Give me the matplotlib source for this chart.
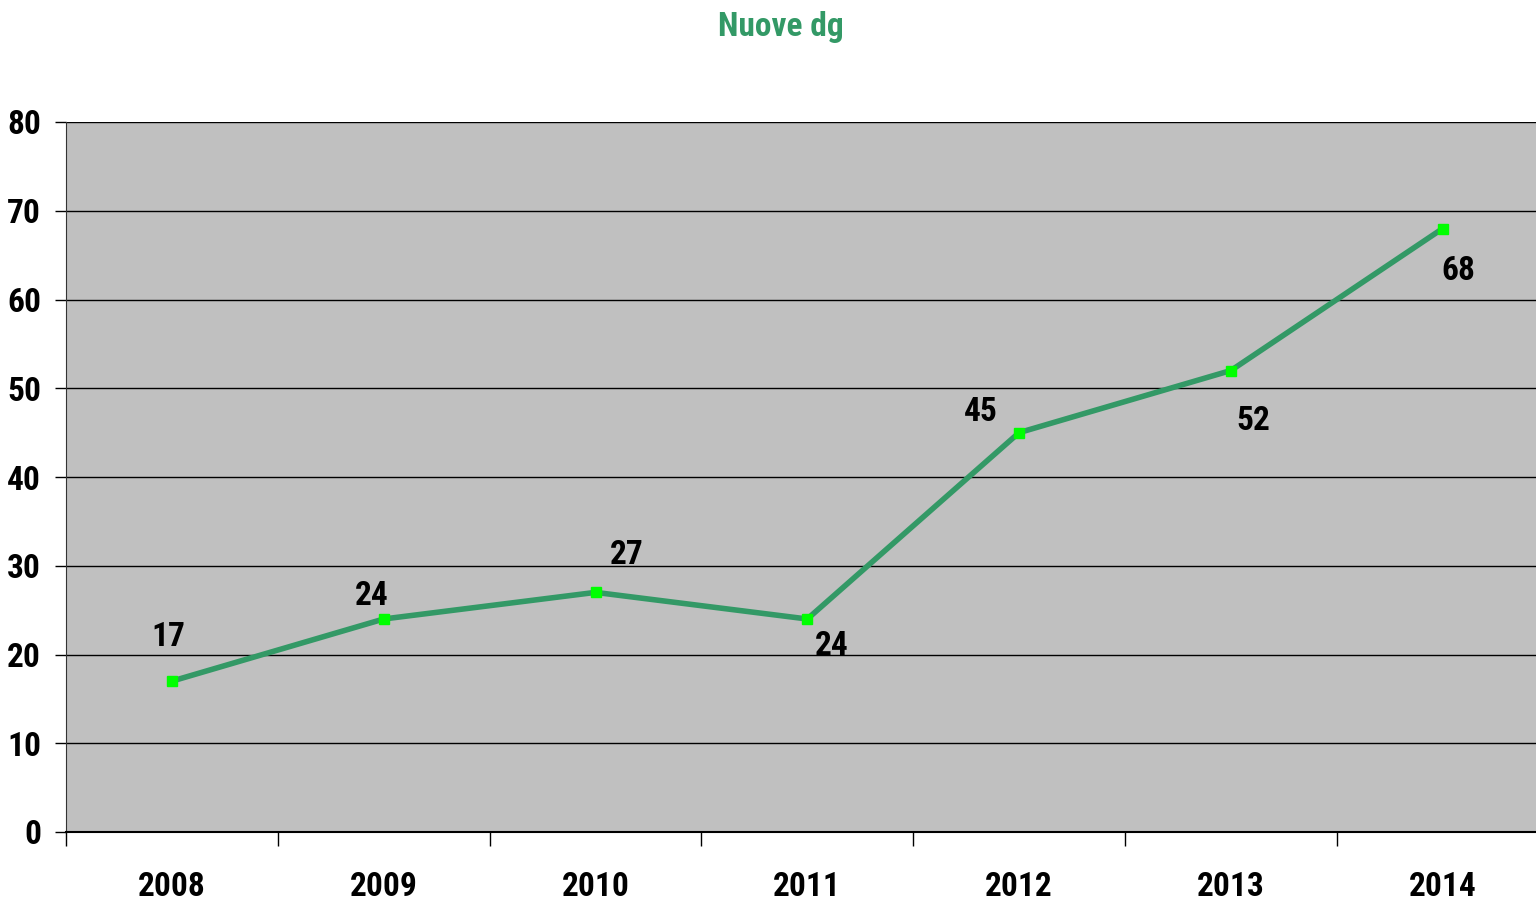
import matplotlib
matplotlib.use("Agg")
import matplotlib.pyplot as plt
from matplotlib.ticker import FixedLocator
import matplotlib.font_manager as fm

years = ["2008", "2009", "2010", "2011", "2012", "2013", "2014"]
values = [17, 24, 27, 24, 45, 52, 68]
label_offsets = [(-4, 44), (-12, 23), (31, 37), (24, -27), (-38, 21), (22, -51), (16, -43)]
title = "Nuove dg"

names = {f.name for f in fm.fontManager.ttflist}
fam = [n for n in ["Liberation Sans Narrow", "Roboto Condensed", "Liberation Sans", "DejaVu Sans"] if n in names]
plt.rcParams['font.family'] = fam
plt.rcParams['font.weight'] = 'bold'

FS = 24
W, H = 1536, 902
fig = plt.figure(figsize=(W/100, H/100), dpi=100)
ax = fig.add_axes([66/W, (H-832)/H, (W-66)/W, (832-122)/H])
ax.set_facecolor("#C0C0C0")

x = list(range(len(years)))
ax.plot(x, values, color="#339966", lw=4, marker="s", markersize=7,
        markerfacecolor="#00FF00", markeredgecolor="#00FF00", zorder=3, clip_on=False)

for xi, v, (dx, dy) in zip(x, values, label_offsets):
    ax.annotate(str(v), (xi, v), xytext=(dx, dy), textcoords="offset pixels",
                ha="center", va="center", fontsize=FS, fontweight="bold", color="black")

ax.set_xlim(-0.5, -0.5 + 1470/211.8)
ax.set_ylim(0, 80)
ax.set_yticks(range(0, 81, 10))
ax.yaxis.grid(True, color="black", lw=1)
ax.set_axisbelow(True)
ax.set_xticks(x)
ax.set_xticklabels(years)
ax.xaxis.set_minor_locator(FixedLocator([i - 0.5 for i in range(7)]))
ax.tick_params(axis="x", which="major", length=0, pad=28, labelsize=FS)
ax.tick_params(axis="x", which="minor", length=10, width=1, color="black")
ax.tick_params(axis="y", length=8, width=1, color="black", pad=10, labelsize=FS)
for lab in ax.get_xticklabels() + ax.get_yticklabels():
    lab.set_fontweight("bold")

ax.spines["top"].set_visible(False)
ax.spines["right"].set_visible(False)
ax.spines["left"].set_color("#333333")
ax.spines["bottom"].set_color("black")
ax.spines["bottom"].set_linewidth(1.5)

fig.text(781/W, 1 - 27/H, title, ha="center", va="center", fontsize=FS,
         fontweight="bold", color="#339966")

fig.savefig("out.png", dpi=100, facecolor="white")
